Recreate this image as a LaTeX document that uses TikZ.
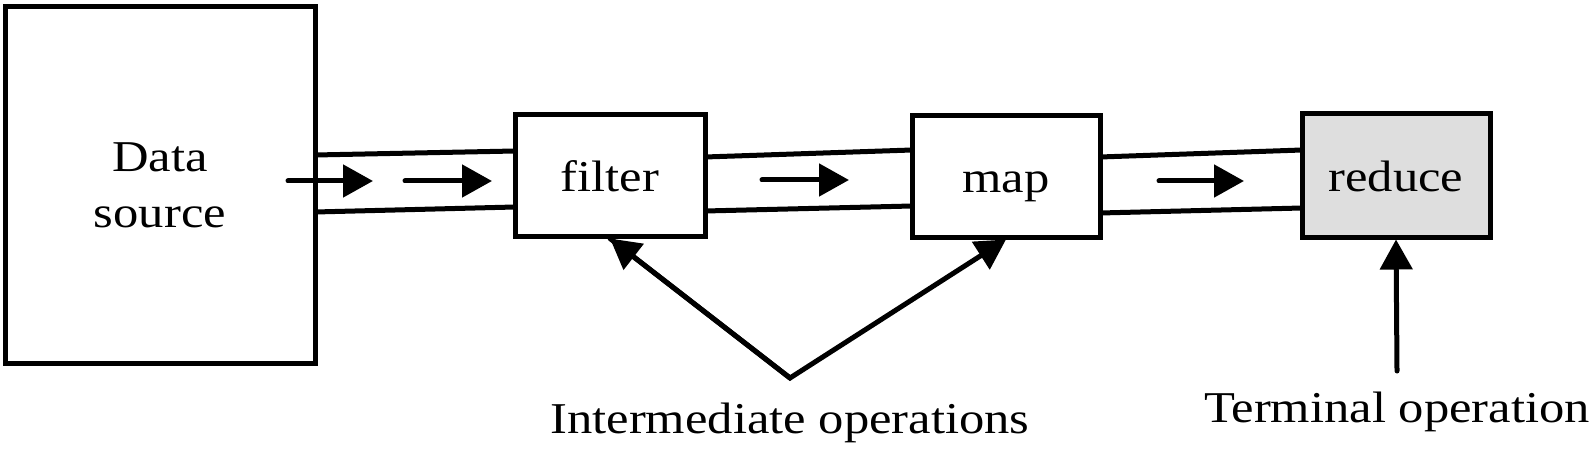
\documentclass[tikz,border=0pt]{standalone}
\usepackage{fontspec}
\setmainfont{Liberation Serif}[FakeStretch=1.15]
\usetikzlibrary{arrows.meta}
\begin{document}
\begin{tikzpicture}[x=1pt,y=-1pt,
  box/.style={draw, line width=5pt, inner sep=0pt, font=\fontsize{44}{56}\selectfont,
              text height=32pt, text depth=0pt},
  pipe/.style={line width=5pt},
  flow/.style={line width=5pt, line cap=round, -{Triangle[length=30pt,width=32pt]}},
  lbl/.style={font=\fontsize{44}{56}\selectfont, anchor=base, inner sep=0pt}]
\useasboundingbox (0,0) rectangle (1594,449);
% boxes
\node[box, minimum width=310pt, minimum height=356pt, align=center,
      text height=, text depth=] (ds) at (160,185) {Data\\source};
\node[box, minimum width=190pt, minimum height=121pt] (filter) at (610,175.5) {filter};
\node[box, minimum width=188pt, minimum height=121pt] (map) at (1006,176.5) {map};
\node[box, fill={rgb,255:red,222;green,222;blue,222}, minimum width=188pt, minimum height=123pt] (reduce) at (1396,175.5) {reduce};
% pipe walls
\coordinate (p1a) at (315,155); \coordinate (p1b) at (515,151);
\coordinate (p1c) at (315,212); \coordinate (p1d) at (515,207);
\coordinate (p2a) at (705,157); \coordinate (p2b) at (912,150);
\coordinate (p2c) at (705,211); \coordinate (p2d) at (912,206);
\coordinate (p3a) at (1100,157); \coordinate (p3b) at (1302,150);
\coordinate (p3c) at (1100,213); \coordinate (p3d) at (1302,208);
\draw[pipe] (p1a) -- (p1b) (p1c) -- (p1d);
\draw[pipe] (p2a) -- (p2b) (p2c) -- (p2d);
\draw[pipe] (p3a) -- (p3b) (p3c) -- (p3d);
% flow arrows
\coordinate (a1s) at (288,181); \coordinate (a1e) at (373,181);
\coordinate (a2s) at (405,181); \coordinate (a2e) at (492,181);
\coordinate (a3s) at (762,180); \coordinate (a3e) at (849,180);
\coordinate (a4s) at (1159,181); \coordinate (a4e) at (1244,181);
\draw[flow] (a1s) -- (a1e);
\draw[flow] (a2s) -- (a2e);
\draw[flow] (a3s) -- (a3e);
\draw[flow] (a4s) -- (a4e);
% labels
\node[lbl] (inter) at (790,433) {Intermediate operations};
\node[lbl] (term) at (1397,422) {Terminal operation};
\coordinate (apex) at (790,378);
\coordinate (ttail) at (1397,371);
\draw[flow, line join=miter] (filter.south) -- (apex) -- (map.south);
\draw[flow, {Triangle[length=30pt,width=32pt]}-] (filter.south) -- (apex);
\draw[flow] (ttail) -- (reduce.south);
\end{tikzpicture}
\end{document}
